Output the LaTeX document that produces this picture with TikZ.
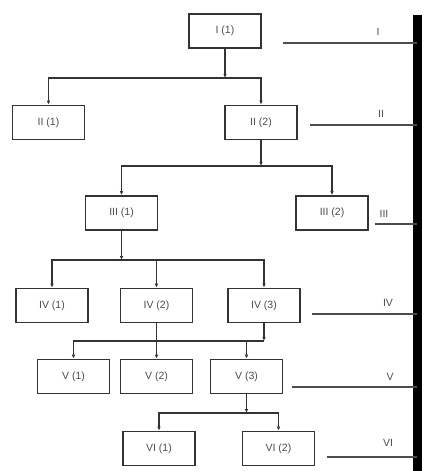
\documentclass[tikz,border=0pt]{standalone}
\usepackage{fontspec}
\setmainfont{Liberation Sans}
\usetikzlibrary{arrows.meta}
\begin{document}
\begin{tikzpicture}[x=1pt,y=-1pt,
  box/.style={draw=black!80,line width=1.6pt,minimum width=72pt,minimum height=34pt,inner sep=0pt,font=\fontsize{10.5}{11}\selectfont,text=black!70},
  conn/.style={draw=black!80,line width=1.5pt},
  arr/.style={conn,-{Latex[length=4pt,width=3.5pt]}},
  lvl/.style={draw=black!70,line width=1.8pt},
  lbl/.style={font=\fontsize{10.5}{11}\selectfont,text=black!70,inner sep=0pt}]
\useasboundingbox (0,0) rectangle (430,471);
% boxes
\node[box] (I1) at (225,31) {I (1)};
\node[box] (II1) at (48.5,122.5) {II (1)};
\node[box] (II2) at (261,122.5) {II (2)};
\node[box] (III1) at (121.5,213) {III (1)};
\node[box] (III2) at (332,213) {III (2)};
\node[box] (IV1) at (52,305.5) {IV (1)};
\node[box] (IV2) at (156.5,305.5) {IV (2)};
\node[box] (IV3) at (264,305.5) {IV (3)};
\node[box] (V1) at (73.5,376.5) {V (1)};
\node[box] (V2) at (156.5,376.5) {V (2)};
\node[box] (V3) at (246.5,376.5) {V (3)};
\node[box] (VI1) at (159,448.5) {VI (1)};
\node[box] (VI2) at (278.5,448.5) {VI (2)};
% junctions
\coordinate (j1) at (225,78);
\coordinate (j2) at (261,166);
\coordinate (j3) at (121.5,260);
\coordinate (j4) at (264,341);
\coordinate (j5) at (246.5,413);
% level 1
\draw[arr] (I1.south) -- (j1);
\draw[arr] (j1) -| (II1.north);
\draw[arr] (j1) -| (II2.north);
% level 2
\draw[arr] (II2.south) -- (j2);
\draw[arr] (j2) -| (III1.north);
\draw[arr] (j2) -| (III2.north);
% level 3
\draw[arr] (III1.south) -- (j3);
\draw[arr] (j3) -| (IV1.north);
\draw[arr] (j3) -| (IV2.north);
\draw[arr] (j3) -| (IV3.north);
% level 4
\draw[arr] (IV3.south) -- (j4);
\draw[arr] (j4) -| (V1.north);
\draw[arr] (j4) -| (V3.north);
\draw[arr] (IV2.south) -- (V2.north);
% level 5
\draw[arr] (V3.south) -- (j5);
\draw[arr] (j5) -| (VI1.north);
\draw[arr] (j5) -| (VI2.north);
% thick bar
\coordinate (bt) at (417,15);
\coordinate (bb) at (417,471);
\draw[line width=9pt] (bt) -- (bb);
% level lines
\coordinate (L1) at (283,43);
\coordinate (L2) at (310,125);
\coordinate (L3) at (375,224);
\coordinate (L4) at (312,314);
\coordinate (L5) at (292,387);
\coordinate (L6) at (327,457);
\draw[lvl] (L1) -- (L1 -| bt);
\draw[lvl] (L2) -- (L2 -| bt);
\draw[lvl] (L3) -- (L3 -| bt);
\draw[lvl] (L4) -- (L4 -| bt);
\draw[lvl] (L5) -- (L5 -| bt);
\draw[lvl] (L6) -- (L6 -| bt);
% labels
\node[lbl] (t1) at (378,32) {I};
\node[lbl] (t2) at (381,114) {II};
\node[lbl] (t3) at (384,214) {III};
\node[lbl] (t4) at (388,303) {IV};
\node[lbl] (t5) at (390,377) {V};
\node[lbl] (t6) at (388,443) {VI};
\end{tikzpicture}
\end{document}
